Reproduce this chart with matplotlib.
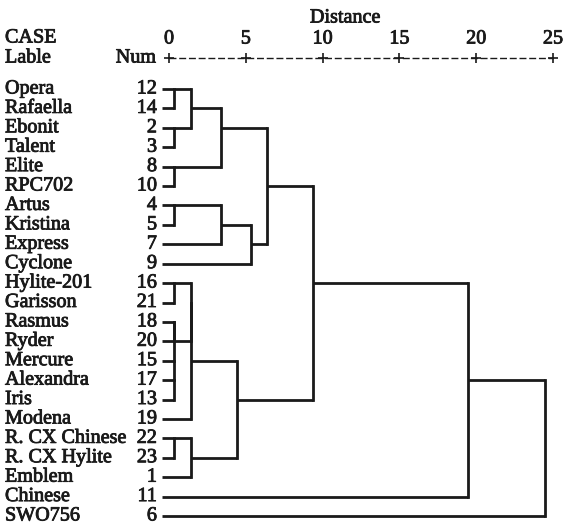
import numpy as np
import matplotlib
matplotlib.use("Agg")
import matplotlib.pyplot as plt
import matplotlib.patheffects as pe

# cases, in the order they appear from top to bottom
case_labels = ["Opera", "Rafaella", "Ebonit", "Talent", "Elite", "RPC702",
               "Artus", "Kristina", "Express", "Cyclone", "Hylite-201",
               "Garisson", "Rasmus", "Ryder", "Mercure", "Alexandra", "Iris",
               "Modena", "R. CX Chinese", "R. CX Hylite", "Emblem", "Chinese",
               "SWO756"]
case_nums = [12, 14, 2, 3, 8, 10, 4, 5, 7, 9, 16, 21, 18, 20, 15, 17, 13,
             19, 22, 23, 1, 11, 6]

# merges: (node a, node b, rescaled distance); new nodes get ids 23, 24, ...
merge_a = [0, 2, 4, 6, 10, 12, 15, 14, 28, 18, 23, 27, 34, 32, 33, 26, 35, 38, 37, 41, 42, 43]
merge_b = [1, 3, 5, 7, 11, 13, 16, 29, 30, 19, 24, 31, 17, 20, 25, 8, 36, 9, 40, 39, 21, 22]
merge_d = [0.33, 0.33, 0.33, 0.33, 0.33, 0.33, 0.33, 0.33, 0.33, 0.33,
           1.41, 1.41, 1.41, 1.41, 3.37, 3.37, 4.41, 5.34, 6.36, 9.39,
           19.45, 24.48]

ticks = [0, 5, 10, 15, 20, 25]

leaf_start = -0.45
font = "Liberation Serif"
fs = 14.5
lw = 2.0
col = "#1a1a1a"
# slightly heavier text, like the scanned original
heavy = [pe.withStroke(linewidth=0.6, foreground=col)]

fig = plt.figure(figsize=(5.64, 5.25), dpi=100)
ax = fig.add_axes([0, 0, 1, 1])
# pixel layout: distance 0 at x=169px, 25 at 553px; row 0 at y=89px, row 22 at y=516px
sx = (553 - 169) / 25.0
sy = (516 - 89) / 22.0
ax.set_xlim(-169 / sx, (564 - 169) / sx)
ax.set_ylim((525 - 89) / sy, -89 / sy)
ax.axis("off")

n = len(case_labels)
ypos = {i: i for i in range(n)}
xpos = {i: leaf_start for i in range(n)}
for k, (a, b, d) in enumerate(zip(merge_a, merge_b, merge_d)):
    ya, yb = ypos[a], ypos[b]
    ax.plot([xpos[a], d], [ya, ya], color=col, lw=lw, solid_capstyle="butt")
    ax.plot([xpos[b], d], [yb, yb], color=col, lw=lw, solid_capstyle="butt")
    ax.plot([d, d], [ya, yb], color=col, lw=lw, solid_capstyle="projecting")
    new = n + k
    ypos[new] = int(np.floor((ya + yb) / 2))
    xpos[new] = d


def put(x, y, s, ha):
    ax.text(x, y, s, family=font, fontsize=fs, color=col, ha=ha, va="center",
            path_effects=heavy)


x_name = (5 - 169) / sx
x_num = (157 - 169) / sx
for i, (lab, num) in enumerate(zip(case_labels, case_nums)):
    put(x_name, i, lab, "left")
    put(x_num, i, str(num), "right")

# header
y_axis = (58 - 89) / sy
ax.plot([ticks[0], ticks[-1]], [y_axis, y_axis], color=col, lw=1.0,
        linestyle=(0, (5, 2)))
ax.plot(ticks, [y_axis] * len(ticks), "+", color=col, ms=7, mew=1.2)
for t in ticks:
    put(t, (39 - 89) / sy, str(t), "center")
put((345 - 169) / sx, (18 - 89) / sy, "Distance", "center")
put(x_name, (38 - 89) / sy, "CASE", "left")
put(x_name, (58 - 89) / sy, "Lable", "left")
put((156 - 169) / sx, (58 - 89) / sy, "Num", "right")

fig.savefig("out.png", dpi=100)
